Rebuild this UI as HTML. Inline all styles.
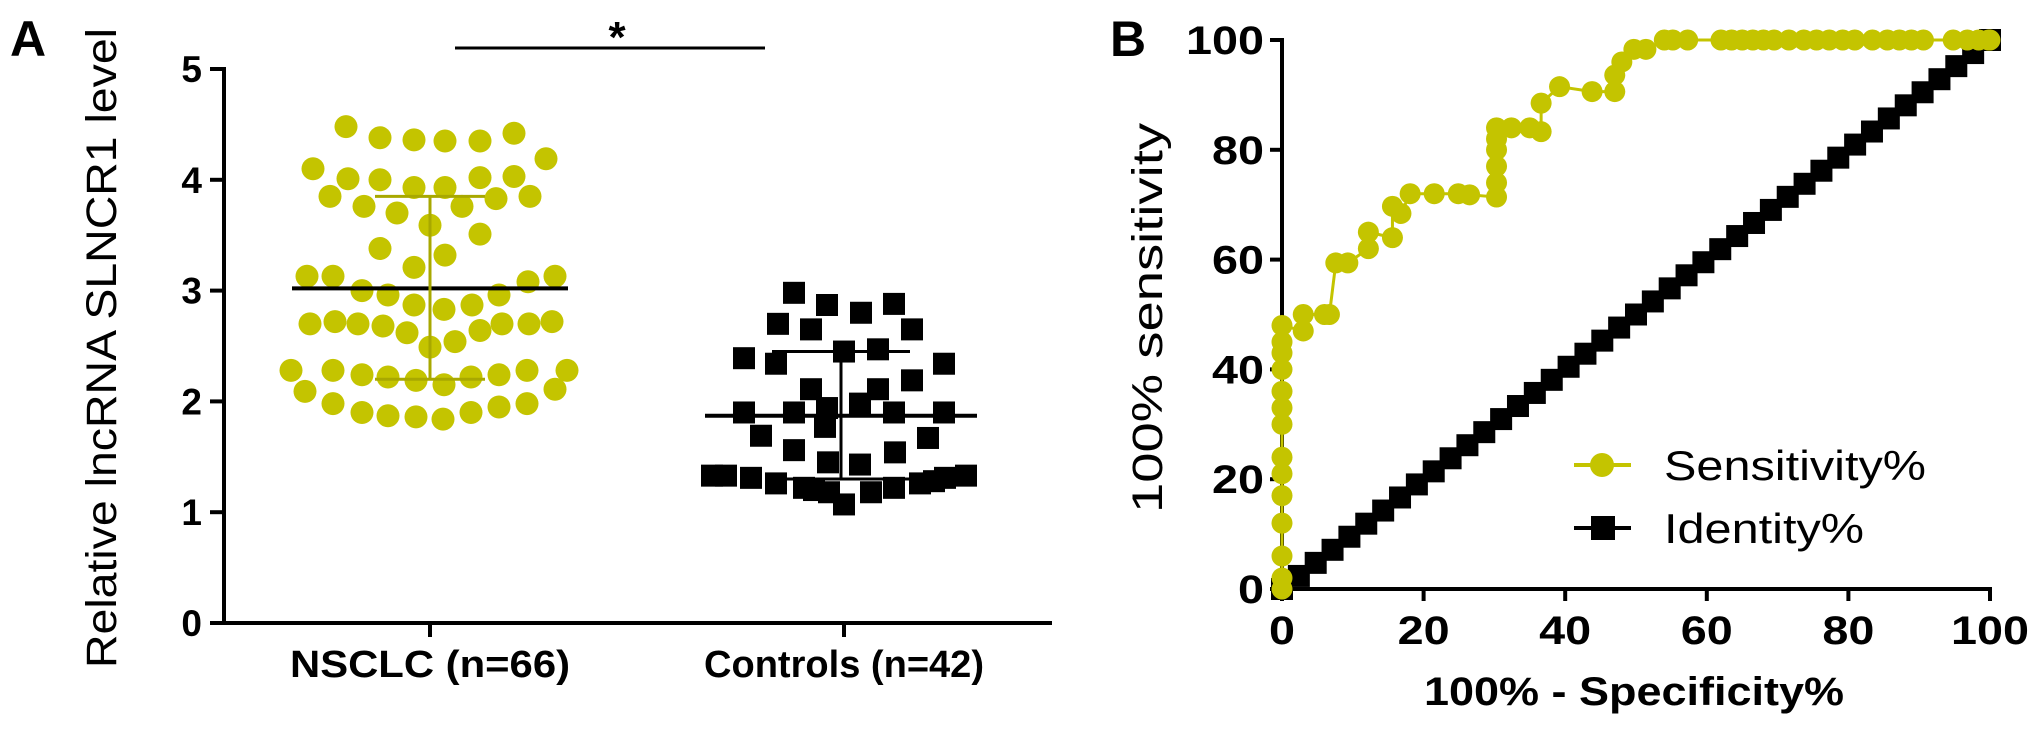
<!DOCTYPE html>
<html><head><meta charset="utf-8"><style>
html,body{margin:0;padding:0;background:#fff;}
svg{display:block;font-family:"Liberation Sans",Arial,sans-serif;}
</style></head><body>
<svg id="fig" width="2031" height="732" viewBox="0 0 2031 732">
<g id="pa"></g>
<g id="pb"></g>
</svg>
<script>
// ---------- Panel A data ----------
const categoriesA = ["NSCLC (n=66)", "Controls (n=42)"];
const yTicksA = [0, 1, 2, 3, 4, 5];
const nsclcValues = [4.48,4.38,4.36,4.35,4.35,4.42,4.19,4.10,
 4.01,4.00,3.93,3.93,4.02,4.03,3.85,3.76,3.70,3.76,3.83,3.85,3.59,3.51,3.38,3.32,3.21,
 3.13,3.13,3.00,2.96,2.87,2.83,2.87,2.96,3.08,3.13,
 2.70,2.72,2.70,2.68,2.62,2.54,2.64,2.70,2.70,2.72,2.49,
 2.28,2.28,2.24,2.22,2.19,2.15,2.22,2.24,2.28,2.28,
 2.09,2.11,1.98,1.90,1.87,1.86,1.84,1.90,1.95,1.98];
const nsclcJitter = [-84,-50,-16,15,50,84,116,-117,
 -82,-50,-16,15,50,84,-100,-66,-33,32,66,100,0,50,-50,15,-16,
 -123,-97,-68,-42,-16,14,42,69,98,125,
 -120,-95,-72,-47,-23,25,50,72,99,122,0,
 -139,-97,-68,-42,-14,14,41,69,97,137,
 -125,125,-97,-68,-42,-14,13,41,69,97];
const nsclcMean = 3.02, nsclcSdLo = 2.2, nsclcSdHi = 3.85;
const ctrlValues = [2.98,2.87,2.80,2.88,2.70,2.65,2.65,2.39,2.34,2.45,2.47,2.34,2.11,2.11,2.19,
 1.90,1.90,1.94,1.98,1.90,1.90,1.69,1.77,1.67,1.56,1.54,1.45,1.43,
 1.33,1.31,1.26,1.22,1.18,1.07,1.18,1.22,1.26,1.31,1.33,1.33,1.28,1.20];
const ctrlJitter = [-50,-17,17,50,-66,-33,68,-100,-68,0,34,100,-33,34,68,
 -100,-50,-17,16,50,100,-83,-19,84,-50,51,-16,16,
 -118,-93,-68,-40,-15,0,27,50,76,101,122,-132,90,-30];
const ctrlMean = 1.87, ctrlSdLo = 1.3, ctrlSdHi = 2.45;

// ---------- Panel B data ----------
const xTicksB = [0,20,40,60,80,100];
const yTicksB = [0,20,40,60,80,100];
const sensX = [0,0,0,0,0,0,0,0,0,0,0,0,0,0,3,3,6,6.7,7.6,9.3,12.2,12.2,15.6,15.6,16.8,18.1,21.5,24.9,26.5,30.3,30.3,30.3,30.3,30.3,30.3,32.4,35,36.6,36.6,39.2,43.8,47,47,48,49.7,51.4,54,55.2,57.3,
 62,63.5,65,66.5,68,69.5,71.6,73.7,75.5,77.3,79.2,80.9,83.4,85.5,87.2,88.9,90.6,94.8,96.8,98.4,99.8,100];
const sensY = [0,2,6,12,17,21,24,30,33,36,40,43,45,48,47,50,50,50,59.4,59.4,62,65,64,69.7,68.4,72,72,72,71.8,71.4,74,77,80,82,84,84,84,83.3,88.5,91.5,90.6,90.6,93.6,96,98.3,98.3,100,100,100,
 100,100,100,100,100,100,100,100,100,100,100,100,100,100,100,100,100,100,100,100,100,100];
const identVals = [0,2.38,4.76,7.14,9.52,11.9,14.29,16.67,19.05,21.43,23.81,26.19,28.57,30.95,33.33,35.71,38.1,40.48,42.86,45.24,47.62,50,52.38,54.76,57.14,59.52,61.9,64.29,66.67,69.05,71.43,73.81,76.19,78.57,80.95,83.33,85.71,88.1,90.48,92.86,95.24,97.62,100];

const NS = "http://www.w3.org/2000/svg";
function mk(parent, tag, attrs, text){
  const e = document.createElementNS(NS, tag);
  for (const k in attrs) e.setAttribute(k, attrs[k]);
  if (text !== undefined) e.textContent = text;
  parent.appendChild(e);
  return e;
}
const YEL = "#c4c400";

// ---------- Panel A ----------
const pa = document.getElementById('pa');
const axA = {x0:224, x1:1052, yBase:623, yTop:69, max:5};
const yA = v => axA.yBase - v/axA.max*(axA.yBase-axA.yTop);
const catX = [430, 844];

let t = mk(pa,'text',{x:10,y:56,'font-size':50,'font-weight':'bold'},'A');



let l = mk(pa,'line',{x1:axA.x0,y1:axA.yTop-2,x2:axA.x0,y2:axA.yBase+2,stroke:'#000','stroke-width':4});


l = mk(pa,'line',{x1:axA.x0-2,y1:axA.yBase,x2:axA.x1,y2:axA.yBase,stroke:'#000','stroke-width':4});



yTicksA.forEach(v=>{
  const y = yA(v);
  const tk = mk(pa,'line',{x1:axA.x0-14,y1:y,x2:axA.x0,y2:y,stroke:'#000','stroke-width':4});
  
  
  const tl = mk(pa,'text',{x:202,y:y+13,'font-size':37,'font-weight':'bold','text-anchor':'end'},String(v));
  
  
});
categoriesA.forEach((c,i)=>{
  const tk = mk(pa,'line',{x1:catX[i],y1:axA.yBase,x2:catX[i],y2:axA.yBase+14,stroke:'#000','stroke-width':4});
  
  
  const tl = mk(pa,'text',{x:catX[i],y:677,'font-size':38,'font-weight':'bold','text-anchor':'middle',textLength:280,lengthAdjust:'spacingAndGlyphs'},c);
  
  
});
t = mk(pa,'text',{transform:'translate(116,348) rotate(-90)','font-size':43,'text-anchor':'middle',textLength:640,lengthAdjust:'spacingAndGlyphs'},'Relative lncRNA SLNCR1 level');



l = mk(pa,'line',{x1:455,y1:48,x2:765,y2:48,stroke:'#000','stroke-width':3});


t = mk(pa,'text',{x:617,y:52,'font-size':44,'font-weight':'bold','text-anchor':'middle'},'*');



nsclcValues.forEach((v,i)=>{
  const c = mk(pa,'circle',{cx:catX[0]+nsclcJitter[i],cy:yA(v),r:11.5,fill:YEL});
  
  
});
ctrlValues.forEach((v,i)=>{
  const r = mk(pa,'rect',{x:catX[1]+ctrlJitter[i]-11,y:yA(v)-11,width:22,height:22,fill:'#000'});
  
  
});
function statLines(cx, mean, lo, hi, half, cap, name){
  let e = mk(pa,'line',{x1:cx-half,y1:yA(mean),x2:cx+half,y2:yA(mean),stroke:'#000','stroke-width':4});
  
  
  e = mk(pa,'line',{x1:cx,y1:yA(lo),x2:cx,y2:yA(hi),stroke:name==='nsclc'?'#a8a800':'#000','stroke-width':3});
  
  
  [lo,hi].forEach(v=>{
    const c = mk(pa,'line',{x1:cx-cap,y1:yA(v),x2:cx+cap,y2:yA(v),stroke:name==='nsclc'?'#a8a800':'#000','stroke-width':3});
    
    
  });
}
statLines(catX[0], nsclcMean, nsclcSdLo, nsclcSdHi, 138, 55, 'nsclc');
statLines(catX[1]-3, ctrlMean, ctrlSdLo, ctrlSdHi, 136, 69, 'control');

// ---------- Panel B ----------
const pb = document.getElementById('pb');
const axB = {x0:1282, x1:1990, y0:589, y1:40};
const xB = v => axB.x0 + v/100*(axB.x1-axB.x0);
const yB = v => axB.y0 - v/100*(axB.y0-axB.y1);

t = mk(pb,'text',{x:1110,y:56,'font-size':50,'font-weight':'bold'},'B');



l = mk(pb,'line',{x1:axB.x0,y1:axB.y1-2,x2:axB.x0,y2:axB.y0+2,stroke:'#000','stroke-width':4});


l = mk(pb,'line',{x1:axB.x0-2,y1:axB.y0,x2:axB.x1+2,y2:axB.y0,stroke:'#000','stroke-width':4});


yTicksB.forEach(v=>{
  const tk = mk(pb,'line',{x1:axB.x0-12,y1:yB(v),x2:axB.x0,y2:yB(v),stroke:'#000','stroke-width':4});
  
  
  const s = String(v);
  const tl = mk(pb,'text',{x:1264,y:yB(v)+14,'font-size':40,'font-weight':'bold','text-anchor':'end',textLength:26*s.length,lengthAdjust:'spacingAndGlyphs'},s);
  
  
});
xTicksB.forEach(v=>{
  const tk = mk(pb,'line',{x1:xB(v),y1:axB.y0,x2:xB(v),y2:axB.y0+12,stroke:'#000','stroke-width':4});
  
  
  const s = String(v);
  const tl = mk(pb,'text',{x:xB(v),y:644,'font-size':40,'font-weight':'bold','text-anchor':'middle',textLength:26*s.length,lengthAdjust:'spacingAndGlyphs'},s);
  
  
});
t = mk(pb,'text',{transform:'translate(1162,318) rotate(-90)','font-size':43,'text-anchor':'middle',textLength:390,lengthAdjust:'spacingAndGlyphs'},'100% sensitivity');


t = mk(pb,'text',{x:1634,y:705,'font-size':40,'font-weight':'bold','text-anchor':'middle',textLength:420,lengthAdjust:'spacingAndGlyphs'},'100% - Specificity%');



// identity
let pts = identVals.map(v=>xB(v)+','+yB(v)).join(' ');
l = mk(pb,'polyline',{points:pts,fill:'none',stroke:'#000','stroke-width':3});


identVals.forEach(v=>{
  const r = mk(pb,'rect',{x:xB(v)-11,y:yB(v)-11,width:22,height:22,fill:'#000'});
  
  
});
// sensitivity
pts = sensX.map((v,i)=>xB(v)+','+yB(sensY[i])).join(' ');
l = mk(pb,'polyline',{points:pts,fill:'none',stroke:YEL,'stroke-width':3});


sensX.forEach((v,i)=>{
  const c = mk(pb,'circle',{cx:xB(v),cy:yB(sensY[i]),r:10.5,fill:YEL});
  
  
});

// legend
const lg = mk(pb,'g',{});


l = mk(lg,'line',{x1:1574,y1:465,x2:1631,y2:465,stroke:YEL,'stroke-width':4});


l = mk(lg,'circle',{cx:1602,cy:465,r:12,fill:YEL});


t = mk(lg,'text',{x:1664,y:480,'font-size':42,textLength:262,lengthAdjust:'spacingAndGlyphs'},'Sensitivity%');


l = mk(lg,'line',{x1:1574,y1:528,x2:1631,y2:528,stroke:'#000','stroke-width':4});


l = mk(lg,'rect',{x:1591,y:516,width:24,height:24,fill:'#000'});


t = mk(lg,'text',{x:1664,y:543,'font-size':42,textLength:200,lengthAdjust:'spacingAndGlyphs'},'Identity%');


</script>
</body></html>
